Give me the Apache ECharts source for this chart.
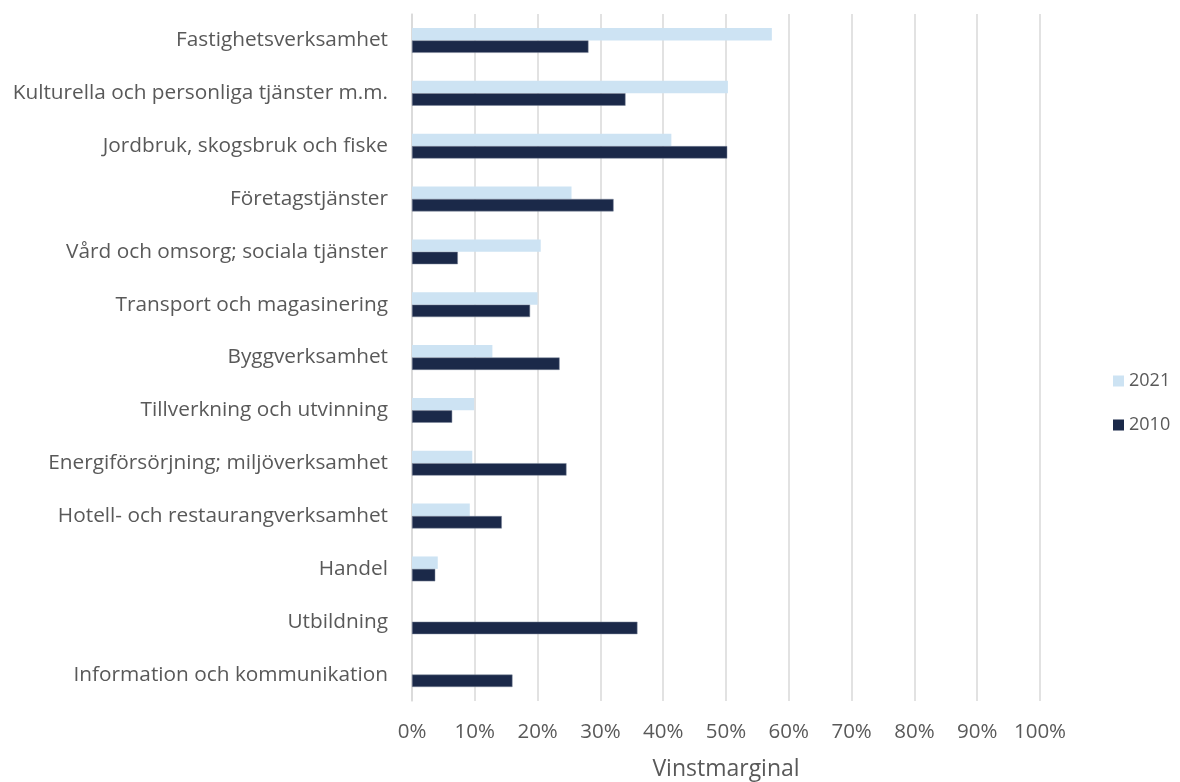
<!DOCTYPE html>
<html>
<head>
<meta charset="utf-8">
<script src="https://cdn.jsdelivr.net/npm/echarts@6/dist/echarts.min.js"></script>
<style>html,body{margin:0;padding:0;background:#fff}#c{width:1180px;height:782px}</style>
</head>
<body>
<div id="c"></div>
<script>
const categories = [
  "Fastighetsverksamhet",
  "Kulturella och personliga tjänster m.m.",
  "Jordbruk, skogsbruk och fiske",
  "Företagstjänster",
  "Vård och omsorg; sociala tjänster",
  "Transport och magasinering",
  "Byggverksamhet",
  "Tillverkning och utvinning",
  "Energiförsörjning; miljöverksamhet",
  "Hotell- och restaurangverksamhet",
  "Handel",
  "Utbildning",
  "Information och kommunikation"
];
const values2021 = [57.3, 50.3, 41.3, 25.4, 20.5, 20.0, 12.8, 9.9, 9.6, 9.2, 4.1, null, null];
const values2010 = [28.1, 34.0, 50.2, 32.1, 7.3, 18.8, 23.5, 6.4, 24.6, 14.3, 3.7, 35.9, 16.0];
const seriesNames = ["2021", "2010"];

const font = "Open Sans";
const chart = echarts.init(document.getElementById('c'), null, {renderer: 'canvas'});
chart.setOption({
  animation: false,
  textStyle: {fontFamily: font},
  grid: {left: 412, right: 140, top: 14, bottom: 81, containLabel: false, outerBoundsMode: 'none'},
  legend: {
    orient: 'vertical', left: 1113, top: 372, padding: 0,
    itemWidth: 11, itemHeight: 11, itemGap: 26, itemTextGap: 6, icon: 'rect',
    itemStyle: {borderWidth: 0},
    textStyle: {fontSize: 18, color: '#595959', fontFamily: font, overflow: 'none'},
    data: seriesNames
  },
  xAxis: {
    type: 'value', min: 0, max: 100, interval: 10,
    name: 'Vinstmarginal', nameLocation: 'middle', nameGap: 57,
    nameTextStyle: {fontSize: 23, color: '#595959', fontFamily: font},
    axisLabel: {formatter: '{value}%', fontSize: 20.5, color: '#595959', margin: 21},
    axisLine: {show: false}, axisTick: {show: false},
    splitLine: {show: true, lineStyle: {color: '#d9d9d9', width: 1.5}}
  },
  yAxis: {
    type: 'category', inverse: true, data: categories,
    axisLine: {show: true, lineStyle: {color: '#d9d9d9', width: 1.5}},
    axisTick: {show: false},
    axisLabel: {fontSize: 20.8, color: '#595959', margin: 24, padding: [9, 0, 0, 0]}
  },
  series: [
    {name: seriesNames[0], type: 'bar', data: values2021, barGap: '0%', barCategoryGap: '53%',
     itemStyle: {color: '#cde3f3'}},
    {name: seriesNames[1], type: 'bar', data: values2010, barGap: '0%', barCategoryGap: '53%',
     itemStyle: {color: '#1b2949', borderColor: '#7d879b', borderWidth: 0.5}}
  ]
});
</script>
</body>
</html>
